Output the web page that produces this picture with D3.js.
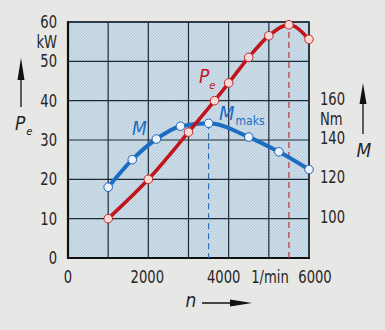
<!DOCTYPE html>
<html><head><meta charset="utf-8">
<script src="https://cdn.jsdelivr.net/npm/d3@7"></script>
<style>
html,body{margin:0;padding:0;background:#e7e7e5;}
svg{display:block;}
text{font-family:"DejaVu Sans Condensed","DejaVu Sans",sans-serif;fill:#262626;}
</style></head>
<body><svg id="c" width="385" height="330"></svg>
<script>
// Data
const powerRpm = [1000, 2000, 3000, 3650, 4000, 4500, 5000, 5500, 6000];
const powerKW  = [10, 20, 32, 40, 44.5, 51, 56.5, 59.3, 55.6];
const torqueRpm = [1000, 1600, 2200, 2800, 3500, 4500, 5250, 6000];
const torqueNm  = [116, 130, 140.5, 147, 148.5, 141.5, 134, 125];
const xTicks = [0, 2000, 4000, 6000];
const xTickLabels = ["0", "2000", "4000", "6000"];
const leftTicks = [0, 10, 20, 30, 40, 50, 60];
const rightTicks = [100, 120, 140, 160];
const maxPowerRpm = 5500;
const maxTorqueRpm = 3500;

const svg = d3.select("#c");
const x = d3.scaleLinear([0, 6000], [68, 309]);
const yP = d3.scaleLinear([0, 60], [258, 22]);
const yM = d3.scaleLinear([80, 200], [258, 22]);

// hatch pattern
const defs = svg.append("defs");
const pat = defs.append("pattern").attr("id","hatch").attr("patternUnits","userSpaceOnUse")
  .attr("width",3).attr("height",3);
pat.append("rect").attr("width",3).attr("height",3).attr("fill","#c8d9e6");
pat.append("path").attr("d","M0,3 L3,0").attr("stroke","#b3c8d8").attr("stroke-width",0.8);
pat.append("path").attr("d","M0,0 L3,3").attr("stroke","#d9e6ef").attr("stroke-width",0.5);

svg.append("rect").attr("x",x(0)).attr("y",yP(60)).attr("width",x(6000)-x(0)).attr("height",yP(0)-yP(60))
  .attr("fill","url(#hatch)");

// grid
const grid = svg.append("g").attr("stroke","#1c2a36").attr("stroke-width",1.2);
d3.range(1000, 6001, 1000).forEach(v => grid.append("line").attr("x1",x(v)).attr("x2",x(v)).attr("y1",yP(0)).attr("y2",yP(60)));
leftTicks.forEach(v => grid.append("line").attr("x1",x(0)).attr("x2",x(6000)).attr("y1",yP(v)).attr("y2",yP(v)));
svg.append("rect").attr("x",x(0)).attr("y",yP(60)).attr("width",x(6000)-x(0)).attr("height",yP(0)-yP(60))
  .attr("fill","none").attr("stroke","#1c2a36").attr("stroke-width",1.6);
svg.append("line").attr("x1",x(0)).attr("x2",x(0)).attr("y1",yP(0)+1).attr("y2",yP(60)-1).attr("stroke","#111").attr("stroke-width",2.2);
svg.append("line").attr("x1",x(0)-1).attr("x2",x(6000)+1).attr("y1",yP(0)).attr("y2",yP(0)).attr("stroke","#111").attr("stroke-width",2.2);

// dashed max lines
svg.append("line").attr("x1",x(maxPowerRpm)).attr("x2",x(maxPowerRpm)).attr("y1",yP(60)).attr("y2",yP(0))
  .attr("stroke","#c4303a").attr("stroke-width",1.2).attr("stroke-dasharray","6,4");
svg.append("line").attr("x1",x(maxTorqueRpm)).attr("x2",x(maxTorqueRpm)).attr("y1",yM(148.5)).attr("y2",yP(0))
  .attr("stroke","#2c6fba").attr("stroke-width",1.2).attr("stroke-dasharray","6,4");

// lines
const pData = powerRpm.map((n,i)=>({n, v: powerKW[i]}));
const mData = torqueRpm.map((n,i)=>({n, v: torqueNm[i]}));
svg.append("path").datum(mData)
  .attr("d", d3.line().x(d=>x(d.n)).y(d=>yM(d.v)).curve(d3.curveMonotoneX))
  .attr("fill","none").attr("stroke","#1d6cc4").attr("stroke-width",4);
svg.append("path").datum(pData)
  .attr("d", d3.line().x(d=>x(d.n)).y(d=>yP(d.v)).curve(d3.curveMonotoneX))
  .attr("fill","none").attr("stroke","#c1151d").attr("stroke-width",3.6);

svg.selectAll(".mpt").data(mData).join("circle").attr("class","mpt")
  .attr("cx",d=>x(d.n)).attr("cy",d=>yM(d.v)).attr("r",4.3)
  .attr("fill","#eaf2fb").attr("stroke","#1d62b0").attr("stroke-width",1);
svg.selectAll(".ppt").data(pData).join("circle").attr("class","ppt")
  .attr("cx",d=>x(d.n)).attr("cy",d=>yP(d.v)).attr("r",4.3)
  .attr("fill","#f7d9d6").attr("stroke","#c0282a").attr("stroke-width",1);

// narrow label helper
function label(px, py, str, anchor){
  svg.append("text").attr("transform",`translate(${px},${py}) scale(0.86,1)`)
    .attr("dy","0.36em").attr("text-anchor",anchor).attr("font-size",17).text(str);
}

// left tick labels
leftTicks.forEach(v => label(57, yP(v), v, "end"));
label(57, yP(55), "kW", "end");

// right tick labels
rightTicks.forEach(v => label(320, yM(v)-2, v, "start"));
label(320, yM(150)-1, "Nm", "start");

// bottom tick labels
const xShift = [0, -1, -5, 6];
xTicks.forEach((v,i) => label(x(v)+xShift[i], 277, xTickLabels[i], "middle"));
label(270, 277, "1/min", "middle");

// arrows
function arrow(x1,y1,x2,y2){
  svg.append("line").attr("x1",x1).attr("y1",y1).attr("x2",x2).attr("y2",y2).attr("stroke","#111").attr("stroke-width",1.3);
}
arrow(21,107,21,70);
svg.append("path").attr("d","M21,58 L17.5,80 L24.5,80 Z").attr("fill","#111");
arrow(363,134,363,95);
svg.append("path").attr("d","M363,83 L359.5,104 L366.5,104 Z").attr("fill","#111");
arrow(202,303,235,303);
svg.append("path").attr("d","M252,303 L230,299.5 L230,306.5 Z").attr("fill","#111");

// axis titles
const pl = svg.append("text").attr("x",15).attr("y",130).attr("font-size",19).attr("font-style","italic");
pl.append("tspan").text("P");
pl.append("tspan").attr("font-size",11).attr("dy",5).attr("dx",1).text("e");
svg.append("text").attr("x",364).attr("y",157).attr("text-anchor","middle").attr("font-size",19).attr("font-style","italic").text("M");
svg.append("text").attr("x",191).attr("y",307).attr("text-anchor","middle").attr("font-size",19).attr("font-style","italic").text("n");

// series labels
const pe = svg.append("text").attr("x",199).attr("y",83).attr("font-size",19).attr("font-style","italic").style("fill","#c1151d");
pe.append("tspan").text("P");
pe.append("tspan").attr("font-size",11).attr("dy",6).attr("dx",0).text("e");
svg.append("text").attr("x",132).attr("y",135).attr("font-size",19).attr("font-style","italic").style("fill","#1d6cc4").text("M");
const mm = svg.append("text").attr("x",219).attr("y",120).attr("font-size",20).attr("font-style","italic").style("fill","#1d6cc4");
mm.append("tspan").text("M");
mm.append("tspan").attr("font-size",12).attr("font-style","normal").attr("dy",5).attr("dx",1).text("maks");
</script></body></html>
